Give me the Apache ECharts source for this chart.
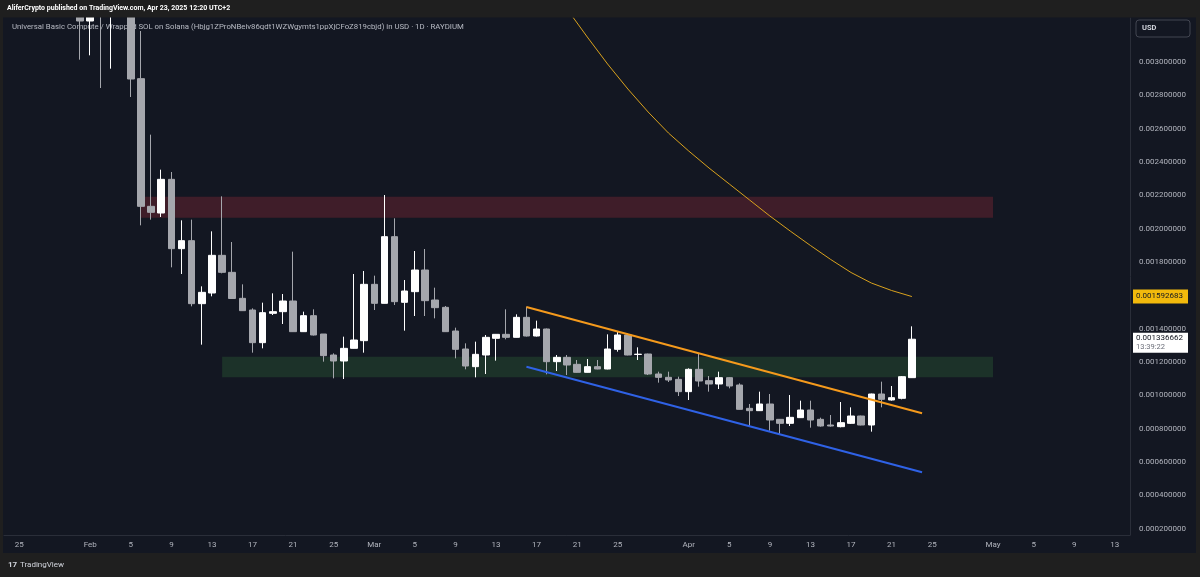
<!DOCTYPE html>
<html><head><meta charset="utf-8">
<script src="https://cdn.jsdelivr.net/npm/echarts@6/dist/echarts.min.js"></script>
<style>html,body{margin:0;padding:0;background:#1f1f1f;}#c{width:1200px;height:577px;}</style>
</head><body><div id="c"></div>
<script>
// ---- categories (daily) ----
const dates = [
 '01-24','01-25','01-26','01-27','01-28','01-29','01-30','01-31',
 '02-01','02-02','02-03','02-04','02-05','02-06','02-07','02-08','02-09','02-10','02-11','02-12','02-13','02-14',
 '02-15','02-16','02-17','02-18','02-19','02-20','02-21','02-22','02-23','02-24','02-25','02-26','02-27','02-28',
 '03-01','03-02','03-03','03-04','03-05','03-06','03-07','03-08','03-09','03-10','03-11','03-12','03-13','03-14',
 '03-15','03-16','03-17','03-18','03-19','03-20','03-21','03-22','03-23','03-24','03-25','03-26','03-27','03-28',
 '03-29','03-30','03-31',
 '04-01','04-02','04-03','04-04','04-05','04-06','04-07','04-08','04-09','04-10','04-11','04-12','04-13','04-14',
 '04-15','04-16','04-17','04-18','04-19','04-20','04-21','04-22','04-23','04-24','04-25','04-26','04-27','04-28',
 '04-29','04-30',
 '05-01','05-02','05-03','05-04','05-05','05-06','05-07','05-08','05-09','05-10','05-11','05-12','05-13','05-14'
];
const xTickLabels = ['01-25','02-01','02-05','02-09','02-13','02-17','02-21','02-25','03-01','03-05','03-09','03-13',
 '03-17','03-21','03-25','04-01','04-05','04-09','04-13','04-17','04-21','04-25','05-01','05-05','05-09','05-13'];
const monthNames = {'01':'Jan','02':'Feb','03':'Mar','04':'Apr','05':'May'};
const priceTicks = [0.0002,0.0004,0.0006,0.0008,0.001,0.0012,0.0014,0.0016,0.0018,0.002,0.0022,0.0024,0.0026,0.0028,0.003];

// ---- daily candles, first candle on 01-31 ----
const candleStart = '01-31';
const open = [0.003342,0.003246,0.00355,0.00338,0.00352,0.00350,0.0029,0.002134,0.002094,0.002296,0.00188,0.001928,0.00155,0.001614,0.00184,0.001738,0.001582,0.001512,0.001316,0.001492,0.001502,0.001566,0.001382,0.001478,0.001368,0.001242,0.001206,0.001282,0.001328,
 0.001666,0.001552,0.001952,0.001558,0.001622,0.001752,0.001572,0.001528,0.001386,0.001278,0.001172,0.001242,0.001342,0.001366,0.001348,0.001468,0.001356,0.001398,0.001202,0.001228,0.001186,0.001138,0.001172,0.001158,0.001276,0.001362,0.001245,0.001248,0.001128,0.001108,0.001096,
 0.001022,0.001156,0.001088,0.001068,0.001106,0.001062,0.000922,0.000908,0.000948,0.000856,0.000832,0.000866,0.000912,0.000856,0.000822,0.000812,0.000832,0.000876,0.000822,0.001008,0.000972,0.000982,0.001106];
const high = [0.003492,0.003432,0.00362,0.00360,0.00372,0.00362,0.003186,0.002564,0.002354,0.00234,0.00205,0.002054,0.001654,0.001984,0.002194,0.00192,0.001666,0.001522,0.001556,0.001612,0.001608,0.001862,0.001502,0.001516,0.001368,0.001252,0.001352,0.001728,0.001746,
 0.001718,0.002202,0.002062,0.001692,0.001866,0.001878,0.001646,0.001536,0.001406,0.001312,0.001322,0.001362,0.001368,0.001516,0.001486,0.001532,0.001448,0.001401,0.001242,0.001242,0.001212,0.001218,0.001212,0.001366,0.001382,0.001372,0.001288,0.00125,0.001142,0.001142,0.001112,
 0.001162,0.001252,0.001116,0.001142,0.001108,0.001072,0.000948,0.001022,0.001008,0.000858,0.001002,0.000968,0.000968,0.000866,0.000882,0.00096,0.000928,0.000878,0.00101,0.001082,0.001056,0.001116,0.001414];
const low = [0.003014,0.00304,0.002844,0.00296,0.00333,0.00279,0.00202,0.002054,0.00207,0.001768,0.001728,0.001534,0.001304,0.001594,0.001732,0.001578,0.001506,0.001256,0.001282,0.001482,0.001428,0.00138,0.00138,0.001359,0.001202,0.001102,0.001098,0.001281,0.001256,
 0.001512,0.001551,0.001542,0.001388,0.001476,0.001476,0.001462,0.00138,0.001222,0.001156,0.001108,0.001128,0.001208,0.001336,0.001347,0.001353,0.001353,0.001126,0.001146,0.001122,0.001136,0.001137,0.001156,0.001156,0.001262,0.00124,0.001212,0.001122,0.001076,0.00108,0.000996,
 0.000972,0.001052,0.001022,0.001038,0.001042,0.000915,0.000812,0.000906,0.000788,0.000768,0.000816,0.000864,0.000806,0.000812,0.000812,0.000808,0.000828,0.00082,0.000782,0.000928,0.000968,0.000976,0.001104];
const close = [0.003246,0.003324,0.00340,0.00352,0.00358,0.002898,0.002134,0.002098,0.002296,0.00188,0.001928,0.00155,0.001618,0.00184,0.001738,0.001581,0.001508,0.001316,0.001496,0.001502,0.001566,0.001382,0.001478,0.001362,0.001238,0.001206,0.001282,0.001332,0.001666,
 0.001552,0.001952,0.001562,0.001626,0.001752,0.001568,0.001526,0.001382,0.001276,0.001176,0.001246,0.001348,0.001366,0.001348,0.001468,0.001356,0.001398,0.001202,0.001228,0.001182,0.001138,0.001172,0.001158,0.001278,0.001362,0.001242,0.001247,0.001128,0.001108,0.001092,0.001022,
 0.001156,0.001086,0.001068,0.001106,0.001056,0.000916,0.000908,0.000948,0.000852,0.000832,0.000868,0.000912,0.000852,0.000816,0.000816,0.000836,0.000876,0.000822,0.001008,0.000976,0.000986,0.001112,0.001336662];

// ---- moving average (every other day) ----
const maDates  = ['03-18','03-20','03-22','03-24','03-26','03-28','03-30','04-01','04-03','04-05',
                  '04-07','04-09','04-11','04-13','04-15','04-17','04-19','04-21','04-23'];
const maValues = [0.003492,0.003318,0.00315,0.002988,0.002838,0.0027,0.002574,0.002466,0.002364,0.002268,
                  0.002172,0.002076,0.001986,0.001899,0.001815,0.001737,0.001674,0.001629,0.001592683];

// ---- drawings ----
const resistanceZone = {from:'02-06', to:'05-01', top:0.002192, bottom:0.002066};
const supportZone    = {from:'02-14', to:'05-01', top:0.001232, bottom:0.001108};
const upperTrend = {from:'03-16', to:'04-24', p1:0.00153,  p2:0.000892};
const lowerTrend = {from:'03-16', to:'04-24', p1:0.001172, p2:0.000538};
const countdown = '13:39:22';

const startIdx = dates.indexOf(candleStart);
const candleData = dates.map((d,i)=>{
  const k = i - startIdx;
  if (k < 0 || k >= open.length) return '-';
  return [open[k], close[k], low[k], high[k]];
});
const maData = dates.map(d=>{ const k = maDates.indexOf(d); return k < 0 ? '-' : maValues[k]; });
const lastClose = close[close.length-1];
const lastMA = maValues[maValues.length-1];

const FONT = 'Roboto, "Liberation Sans", sans-serif';
const chart = echarts.init(document.getElementById('c'), null, {width:1200, height:577});

const frame = [
  {id:'fTop', type:'rect', shape:{x:0,y:0,width:1200,height:17.5}, style:{fill:'#1f1f1f'}, z:100, silent:true},
  {id:'fBot', type:'rect', shape:{x:0,y:553,width:1200,height:24}, style:{fill:'#1f1f1f'}, z:100, silent:true},
  {id:'fL', type:'rect', shape:{x:0,y:0,width:3,height:577}, style:{fill:'#1f1f1f'}, z:100, silent:true},
  {id:'fR', type:'rect', shape:{x:1196,y:0,width:4,height:577}, style:{fill:'#1f1f1f'}, z:100, silent:true},
  {id:'hdr', type:'text', left:7, top:4.5, z:101, silent:true,
    style:{text:'AliferCrypto published on TradingView.com, Apr 23, 2025 12:20 UTC+2', fill:'#ffffff', font:'bold 7px '+FONT}},
  {id:'ttl', type:'text', left:12, top:23, z:0, silent:true,
    style:{text:'Universal Basic Compute / Wrapped SOL on Solana (Hbjg1ZProNBeiv86qdt1WZWgymts1ppXjCFoZ819cbjd) in USD · 1D · RAYDIUM', fill:'#b8bbc4', font:'7.8px '+FONT}},
  {id:'usdBox', type:'rect', shape:{x:1136,y:20,width:54,height:17,r:3}, style:{fill:'#131722', stroke:'#434651', lineWidth:1}, z:101, silent:true},
  {id:'usdTxt', type:'text', left:1142, top:24, z:102, silent:true, style:{text:'USD', fill:'#d1d4dc', font:'bold 7.5px '+FONT}},
  {id:'logo', type:'text', left:8, top:561, z:101, silent:true, style:{text:'17', fill:'#d1d4dc', font:'bold 8px '+FONT}},
  {id:'logoTxt', type:'text', left:20, top:561, z:101, silent:true, style:{text:'TradingView', fill:'#d1d4dc', font:'8px '+FONT}}
];

chart.setOption({
  animation:false,
  backgroundColor:'#131722',
  grid:{left:4, right:70, top:18, bottom:42},
  xAxis:{
    type:'category', data:dates, boundaryGap:true,
    axisLine:{show:true, lineStyle:{color:'#2a2e39'}},
    axisTick:{show:false},
    splitLine:{show:false},
    axisLabel:{
      interval:(i,v)=>xTickLabels.indexOf(v) >= 0,
      formatter:(v)=>{ const [m,d]=v.split('-'); return d==='01' ? monthNames[m] : String(parseInt(d,10)); },
      color:'#b2b5be', fontSize:8, fontFamily:FONT, margin:6
    }
  },
  yAxis:{
    type:'value', position:'right', min:0.000162, max:0.003264, scale:true,
    axisLine:{show:true, lineStyle:{color:'#2a2e39'}},
    axisTick:{show:false},
    splitLine:{show:false},
    axisLabel:{customValues:priceTicks, formatter:(v)=>v.toFixed(9), color:'#b2b5be', fontSize:8, fontFamily:FONT, margin:9}
  },
  graphic: frame,
  series:[
    {
      type:'line', data:dates.map(()=> '-'), z:1, silent:true,
      markArea:{silent:true, data:[
        [{coord:[resistanceZone.from, resistanceZone.top], itemStyle:{color:'rgba(242,54,69,0.2)'}},{coord:[resistanceZone.to, resistanceZone.bottom]}],
        [{coord:[supportZone.from, supportZone.top], itemStyle:{color:'rgba(67,160,71,0.2)'}},{coord:[supportZone.to, supportZone.bottom]}]
      ]}
    },
    {
      type:'line', data:maData, z:2, connectNulls:true, smooth:false, showSymbol:false, clip:true, silent:true,
      lineStyle:{color:'#d9a21e', width:1}
    },
    {
      type:'candlestick', data:candleData, z:3, barWidth:7, clip:true, silent:true,
      itemStyle:{color:'#ffffff', color0:'#a5a7ad', borderColor:'#ffffff', borderColor0:'#a5a7ad', borderWidth:1},
      markLine:{silent:true, symbol:['none','none'], label:{show:false}, data:[
        [{coord:[upperTrend.from, upperTrend.p1], lineStyle:{color:'#f59a1c', width:2, type:'solid'}},{coord:[upperTrend.to, upperTrend.p2]}],
        [{coord:[lowerTrend.from, lowerTrend.p1], lineStyle:{color:'#2f62e6', width:2, type:'solid'}},{coord:[lowerTrend.to, lowerTrend.p2]}]
      ]}
    }
  ]
});

const yMA = chart.convertToPixel({yAxisIndex:0}, lastMA);
const yLC = chart.convertToPixel({yAxisIndex:0}, lastClose);
chart.setOption({graphic:[
  {id:'maBox', type:'rect', shape:{x:1133,y:yMA-7,width:55,height:14}, style:{fill:'#f2b90c'}, z:103, silent:true},
  {id:'maTxt', type:'text', left:1136, top:yMA-5, z:104, silent:true, style:{text:lastMA.toFixed(9), fill:'#131722', font:'8px '+FONT}},
  {id:'lcBox', type:'rect', shape:{x:1133,y:yLC-6.5,width:55,height:20}, style:{fill:'#ffffff'}, z:103, silent:true},
  {id:'lcTxt', type:'text', left:1136, top:yLC-5, z:104, silent:true, style:{text:lastClose.toFixed(9), fill:'#131722', font:'8px '+FONT}},
  {id:'cdTxt', type:'text', left:1136, top:yLC+4, z:104, silent:true, style:{text:countdown, fill:'#6a6d78', font:'7.5px '+FONT}}
]});
</script></body></html>
